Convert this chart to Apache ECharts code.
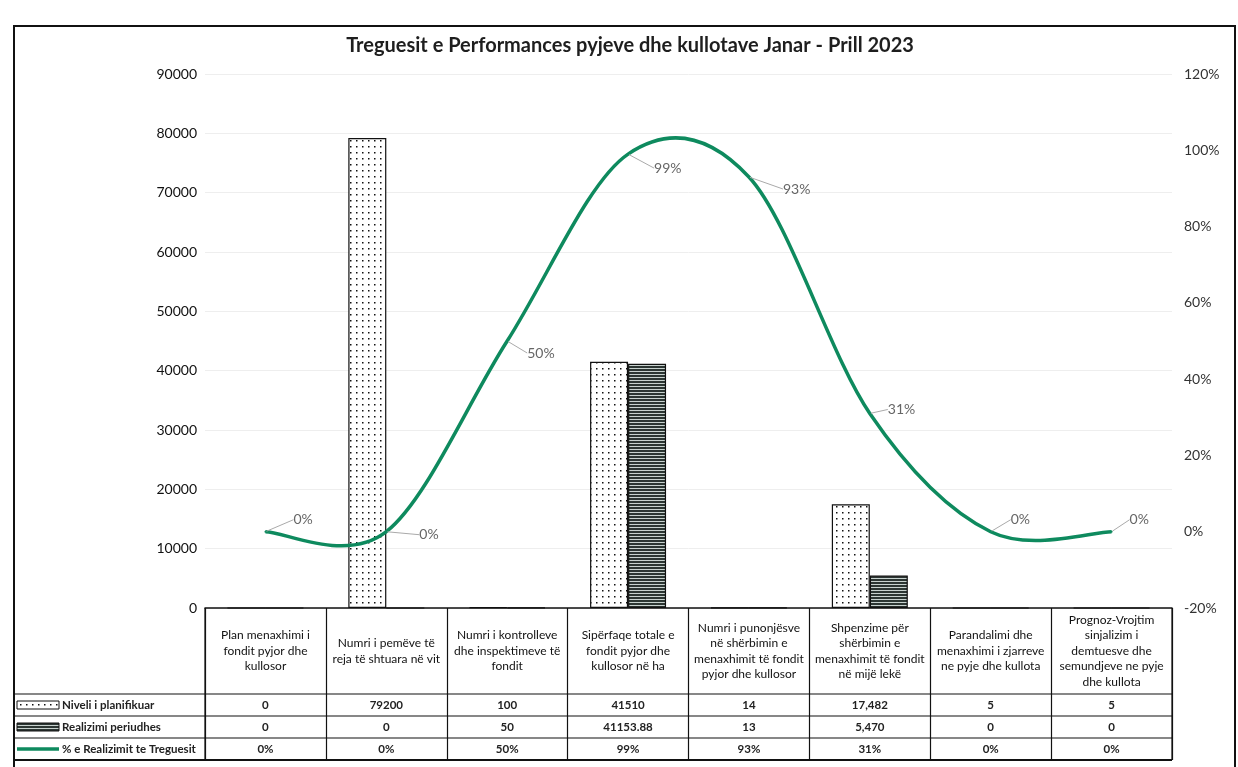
<!DOCTYPE html>
<html>
<head>
<meta charset="utf-8">
<title>Treguesit e Performances</title>
<script src="https://cdn.jsdelivr.net/npm/echarts@6/dist/echarts.min.js"></script>
<style>
  html, body { margin: 0; padding: 0; background: #fff; }
  #chart { width: 1238px; height: 767px; }
</style>
</head>
<body>
<div id="chart"></div>
<script>
// te dhenat
var categories = [
  "Plan menaxhimi i\nfondit pyjor dhe\nkullosor",
  "Numri i pemëve të\nreja të shtuara në vit",
  "Numri i kontrolleve\ndhe inspektimeve të\nfondit",
  "Sipërfaqe totale e\nfondit pyjor dhe\nkullosor në ha",
  "Numri i punonjësve\nnë shërbimin e\nmenaxhimit të fondit\npyjor dhe kullosor",
  "Shpenzime për\nshërbimin e\nmenaxhimit të fondit\nnë mijë lekë",
  "Parandalimi dhe\nmenaxhimi i zjarreve\nne pyje dhe kullota",
  "Prognoz-Vrojtim\nsinjalizim i\ndemtuesve dhe\nsemundjeve ne pyje\ndhe kullota"
];
var planned = [0, 79200, 100, 41510, 14, 17482, 5, 5];
var realized = [0, 0, 50, 41153.88, 13, 5470, 0, 0];
var percent = [0, 0, 50, 99, 93, 31, 0, 0];
var seriesNames = ["Niveli i planifikuar", "Realizimi periudhes", "% e Realizimit te Treguesit"];
var leftTicks = { min: 0, max: 90000, interval: 10000 };
var rightTicks = { min: -20, max: 120, interval: 20 };

// zhvendosja e etiketave te vijes
var labelDx = [22, 27, 14, 20, 28, 12, 14, 12];
var labelDy = [-12, 3, 12, 14, 12, -4, -12, -12];

var FONT = "Lato, 'Open Sans', sans-serif";
var GREEN = "#0e8a5e";
var GRID_L = 205, GRID_R = 1172, TABLE_TOP = 608, HEADER_H = 86, ROW_H = 22;

function dotPattern() {
  var c = document.createElement("canvas");
  c.width = 6; c.height = 6;
  var g = c.getContext("2d");
  g.fillStyle = "#fff"; g.fillRect(0, 0, 6, 6);
  g.fillStyle = "#111"; g.fillRect(2, 2, 1.5, 1.5);
  return c;
}
function stripePattern() {
  var c = document.createElement("canvas");
  c.width = 4; c.height = 3;
  var g = c.getContext("2d");
  g.fillStyle = "#2c3633"; g.fillRect(0, 0, 4, 3);
  g.fillStyle = "#c8d2cf"; g.fillRect(0, 2, 4, 1);
  return c;
}
var dots = { image: dotPattern(), repeat: "repeat" };
var stripes = { image: stripePattern(), repeat: "repeat" };

function fmt(v, i) {
  return i === 5 ? v.toLocaleString("en-US") : String(v);
}

// vije e lemuar si ne Excel (Catmull-Rom)
function renderCurve(params, api) {
  if (params.dataIndex !== 0) return null;
  var pts = percent.map(function (v, i) { return api.coord([i, v]); });
  var n = pts.length;
  var d = "M " + pts[0][0] + " " + pts[0][1];
  for (var i = 0; i < n - 1; i++) {
    var p0 = pts[Math.max(i - 1, 0)], p1 = pts[i], p2 = pts[i + 1], p3 = pts[Math.min(i + 2, n - 1)];
    var c1x = p1[0] + (p2[0] - p0[0]) / 6, c1y = p1[1] + (p2[1] - p0[1]) / 6;
    var c2x = p2[0] - (p3[0] - p1[0]) / 6, c2y = p2[1] - (p3[1] - p1[1]) / 6;
    d += " C " + c1x + " " + c1y + " " + c2x + " " + c2y + " " + p2[0] + " " + p2[1];
  }
  return {
    type: "path",
    shape: { pathData: d },
    style: { fill: "none", stroke: GREEN, lineWidth: 3.5 }
  };
}

var chart = echarts.init(document.getElementById("chart"));
chart.setOption({
  animation: false,
  backgroundColor: "#fff",
  textStyle: { fontFamily: FONT },
  title: {
    text: "Treguesit e Performances pyjeve dhe kullotave Janar - Prill 2023",
    left: 625,
    textAlign: "center",
    top: 31,
    textStyle: { fontSize: 20, fontWeight: "bold", color: "#1e1e1e", fontFamily: FONT }
  },
  grid: { left: GRID_L, right: 1238 - GRID_R, top: 74, bottom: 767 - TABLE_TOP },
  xAxis: {
    type: "category",
    data: categories,
    axisLine: { lineStyle: { color: "#111", width: 1.5 } },
    axisTick: { show: true, length: HEADER_H + 3 * ROW_H, lineStyle: { color: "#111", width: 1.2 } },
    axisLabel: {
      interval: 0,
      margin: HEADER_H / 2,
      verticalAlign: "middle",
      align: "center",
      fontSize: 12,
      lineHeight: 15.5,
      color: "#111"
    }
  },
  yAxis: [
    {
      type: "value",
      min: leftTicks.min, max: leftTicks.max, interval: leftTicks.interval,
      axisLine: { show: false },
      axisTick: { show: false },
      axisLabel: {
        fontSize: 14, color: "#111", margin: 8,
        formatter: function (v) { return String(v); }
      },
      splitLine: { lineStyle: { color: "#eeeeee" } }
    },
    {
      type: "value",
      min: rightTicks.min, max: rightTicks.max, interval: rightTicks.interval,
      axisLine: { show: false },
      axisTick: { show: false },
      axisLabel: { fontSize: 14, color: "#333", margin: 12, formatter: "{value}%" },
      splitLine: { show: false }
    }
  ],
  series: [
    {
      name: seriesNames[0],
      type: "bar",
      data: planned,
      barWidth: 38,
      barGap: "0%",
      itemStyle: { color: dots, borderColor: "#111", borderWidth: 1.2 }
    },
    {
      name: seriesNames[1],
      type: "bar",
      data: realized,
      barWidth: 38,
      itemStyle: { color: stripes, borderColor: "#111", borderWidth: 1.2 }
    },
    {
      name: seriesNames[2],
      type: "custom",
      yAxisIndex: 1,
      data: percent.map(function (v, i) { return [i, v]; }),
      encode: { x: 0, y: 1 },
      renderItem: renderCurve,
      silent: true,
      z: 3
    },
    {
      // vetem per etiketat e perqindjeve
      name: seriesNames[2],
      type: "line",
      yAxisIndex: 1,
      data: percent,
      symbol: "circle",
      symbolSize: 2,
      itemStyle: { color: GREEN },
      lineStyle: { opacity: 0 },
      z: 4,
      label: {
        show: true,
        position: "right",
        formatter: "{c}%",
        fontSize: 14,
        color: "#666"
      },
      labelLine: { show: true, lineStyle: { color: "#aaa", width: 1 } },
      labelLayout: function (p) {
        return { dx: labelDx[p.dataIndex], dy: labelDy[p.dataIndex] };
      }
    }
  ]
});

// tabela e te dhenave poshte grafikut
var xs = categories.map(function (c, i) {
  return chart.convertToPixel({ xAxisIndex: 0 }, i);
});
var rowTop = TABLE_TOP + HEADER_H;
var rows = [planned, realized, percent];
var g = [];

g.push({
  type: "rect",
  shape: { x: 14, y: 26, width: 1221, height: 800 },
  style: { fill: "none", stroke: "#111", lineWidth: 2 },
  silent: true
});
for (var r = 0; r <= 3; r++) {
  g.push({
    type: "line",
    shape: { x1: 14, y1: rowTop + r * ROW_H, x2: GRID_R, y2: rowTop + r * ROW_H },
    style: { stroke: "#111", lineWidth: r === 3 ? 2 : 1.2 },
    silent: true
  });
}
[GRID_L, GRID_R].forEach(function (x) {
  g.push({
    type: "line",
    shape: { x1: x, y1: TABLE_TOP, x2: x, y2: rowTop + 3 * ROW_H },
    style: { stroke: "#111", lineWidth: 1.2 },
    silent: true
  });
});

rows.forEach(function (vals, r) {
  var cy = rowTop + r * ROW_H + ROW_H / 2;
  // celesi i legjendes
  if (r === 2) {
    g.push({
      type: "line",
      shape: { x1: 17, y1: cy, x2: 59, y2: cy },
      style: { stroke: GREEN, lineWidth: 3.5 },
      silent: true
    });
  } else {
    g.push({
      type: "rect",
      shape: { x: 17, y: cy - 4, width: 42, height: 8 },
      style: { fill: r === 0 ? dots : stripes, stroke: "#111", lineWidth: 1 },
      silent: true
    });
  }
  g.push({
    type: "text",
    style: {
      x: 62, y: cy, text: seriesNames[r],
      font: "bold 11.5px " + FONT, fill: "#222",
      textAlign: "left", textVerticalAlign: "middle"
    },
    silent: true
  });
  vals.forEach(function (v, i) {
    g.push({
      type: "text",
      style: {
        x: xs[i], y: cy,
        text: r === 2 ? v + "%" : fmt(v, i),
        font: "bold 11.5px " + FONT, fill: "#222",
        textAlign: "center", textVerticalAlign: "middle"
      },
      silent: true
    });
  });
});

chart.setOption({ graphic: g });
</script>
</body>
</html>
